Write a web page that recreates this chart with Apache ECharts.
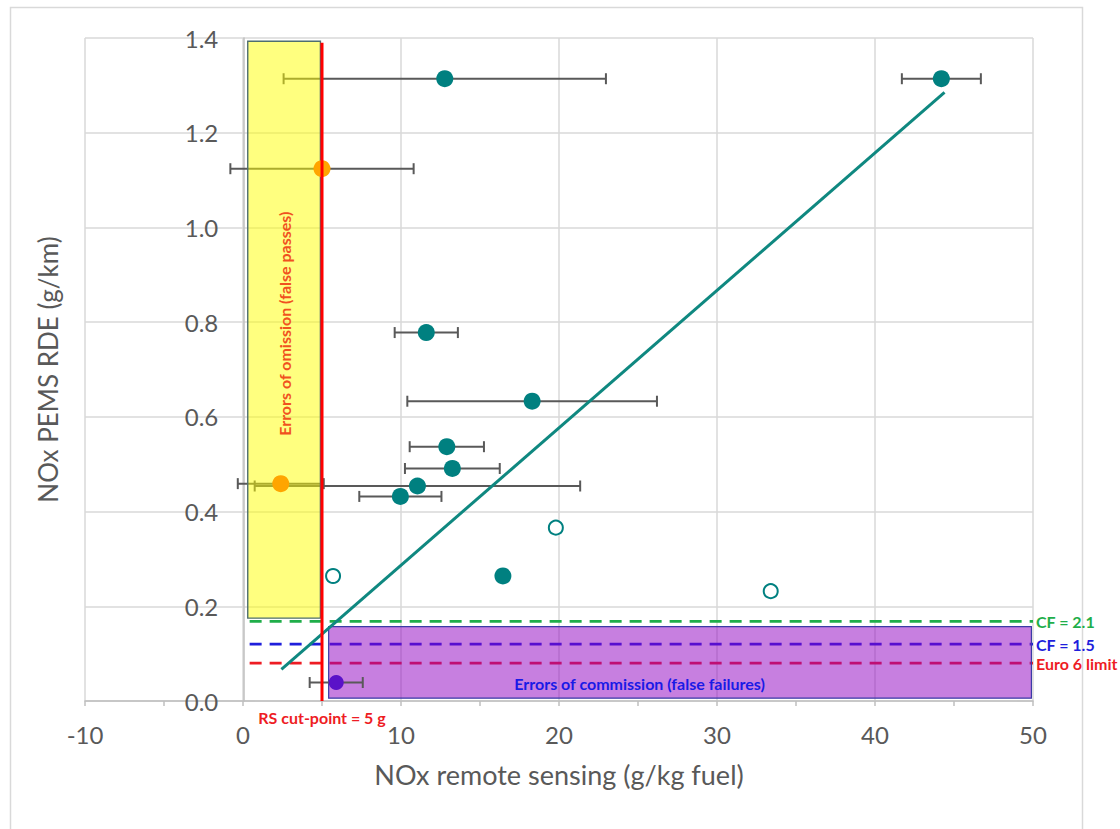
<!DOCTYPE html>
<html>
<head>
<meta charset="utf-8">
<title>NOx remote sensing vs PEMS RDE</title>
<script src="https://cdn.jsdelivr.net/npm/echarts@6/dist/echarts.min.js"></script>
<style>
  html, body { margin: 0; padding: 0; background: #fff; }
  #chart { width: 1120px; height: 829px; }
</style>
</head>
<body>
<div id="chart"></div>
<script>
// vehicles that failed on both methods (teal, filled) with RS uncertainty (half width)
const tealX = [12.77, 44.2, 11.6, 18.3, 12.9, 13.25, 11.04, 9.96, 16.45]
const tealY = [1.314, 1.314, 0.778, 0.633, 0.537, 0.491, 0.454, 0.432, 0.264]
const tealErr = [10.2, 2.5, 2.0, 7.9, 2.35, 3.0, 10.3, 2.6, 0]

// false passes (orange)
const orangeX = [5.0, 2.39]
const orangeY = [1.124, 0.459]
const orangeErr = [5.8, 2.72]

// false failure (purple)
const purpleX = [5.9]
const purpleY = [0.039]
const purpleErr = [1.68]

// open markers, no error bars
const openX = [5.7, 19.8, 33.4]
const openY = [0.264, 0.366, 0.232]

// linear trend
const trendX = [2.43, 44.4]
const trendY = [0.067, 1.285]

// RS cut-point
const cutPointX = 5
const cutPointTop = 1.39

// PEMS limits
const limitNames = ["CF = 2.1", "CF = 1.5", "Euro 6 limit"]
const limitValues = [0.168, 0.12, 0.08]
const limitColors = ["#1fae4a", "#1f1fdc", "#ee1c24"]
const limitStart = 0.42
const limitEnd = 50

// error zones [x0, y0, x1, y1]
const omissionBox = [0.3, 0.175, 4.9, 1.393]
const commissionBox = [5.42, 0.006, 49.9, 0.157]

const FONT = "Lato"
const GREY = "#595959"

function errData(xs, ys, es) {
  return xs.map((x, i) => [x, ys[i], es[i]]).filter(d => d[2] > 0)
}

function renderErr(params, api) {
  const x = api.value(0)
  const y = api.value(1)
  const e = api.value(2)
  const a = api.coord([x - e, y])
  const b = api.coord([x + e, y])
  const s = { stroke: GREY, lineWidth: 2 }
  return {
    type: "group",
    children: [
      { type: "line", shape: { x1: a[0], y1: a[1], x2: b[0], y2: b[1] }, style: s },
      { type: "line", shape: { x1: a[0], y1: a[1] - 5.5, x2: a[0], y2: a[1] + 5.5 }, style: s },
      { type: "line", shape: { x1: b[0], y1: b[1] - 5.5, x2: b[0], y2: b[1] + 5.5 }, style: s }
    ]
  }
}

function boxShape(api) {
  const p0 = api.coord([api.value(0), api.value(3)])
  const p1 = api.coord([api.value(2), api.value(1)])
  return { x: p0[0], y: p0[1], width: p1[0] - p0[0], height: p1[1] - p0[1] }
}

const chart = echarts.init(document.getElementById("chart"), null, { renderer: "svg" })

const limitSeries = limitValues.map((v, i) => ({
  name: limitNames[i],
  type: "line",
  z: 2,
  silent: true,
  showSymbol: false,
  data: [[limitStart, v], [limitEnd, v]],
  lineStyle: { color: limitColors[i], width: 2.8, type: [12, 8] },
  endLabel: {
    show: true,
    formatter: "{a}",
    distance: 3,
    color: limitColors[i],
    fontFamily: FONT,
    fontWeight: "bold",
    fontSize: 16
  }
}))

const option = {
  animation: false,
  backgroundColor: "#fff",
  graphic: [
    {
      type: "rect",
      left: 8,
      top: 5,
      shape: { width: 1072, height: 840 },
      style: { fill: "none", stroke: "#d9d9d9", lineWidth: 1.5 },
      z: -10
    }
  ],
  grid: { left: 85, right: 87, top: 38, bottom: 128, containLabel: false, outerBoundsMode: "none" },
  xAxis: {
    type: "value",
    min: -10,
    max: 50,
    interval: 10,
    name: "NOx remote sensing (g/kg fuel)",
    nameLocation: "middle",
    nameGap: 60,
    nameTextStyle: { color: GREY, fontFamily: FONT, fontSize: 27 },
    axisLine: { show: true, onZero: false, lineStyle: { color: "#bfbfbf", width: 1.5 } },
    axisTick: { show: true, length: 5, lineStyle: { color: "#bfbfbf", width: 1.5 } },
    minorTick: { show: true, splitNumber: 2, length: 5, lineStyle: { color: "#bfbfbf", width: 1.5 } },
    axisLabel: { color: GREY, fontFamily: FONT, fontSize: 24, margin: 21 },
    splitLine: { show: true, lineStyle: { color: "#d9d9d9", width: 1.5 } }
  },
  yAxis: {
    type: "value",
    min: 0,
    max: 1.4,
    interval: 0.2,
    // the axis crosses at x = 0, which is 158 px right of the grid edge
    offset: -158.3,
    name: "NOx PEMS RDE (g/km)",
    nameLocation: "middle",
    nameGap: 182,
    nameTextStyle: { color: GREY, fontFamily: FONT, fontSize: 26 },
    axisLine: { show: true, onZero: false, lineStyle: { color: "#bfbfbf", width: 1.5 } },
    axisTick: { show: false },
    axisLabel: {
      color: GREY,
      fontFamily: FONT,
      fontSize: 24,
      margin: 25,
      formatter: v => v.toFixed(1)
    },
    splitLine: { show: true, lineStyle: { color: "#d9d9d9", width: 1.5 } }
  },
  series: [
    ...limitSeries,
    {
      name: "commission",
      type: "custom",
      z: 3,
      silent: true,
      data: [commissionBox],
      renderItem: (params, api) => {
        const r = boxShape(api)
        const t = api.coord([25.1, 0.038])
        return {
          type: "group",
          children: [
            { type: "rect", shape: r, style: { fill: "rgba(143,0,193,0.5)", stroke: "#3b3ba6", lineWidth: 1.2 } },
            {
              type: "text",
              x: t[0],
              y: t[1],
              style: {
                text: "Errors of commission (false failures)",
                fill: "#1a1ae6",
                font: "bold 16px " + FONT,
                align: "center",
                verticalAlign: "middle"
              }
            }
          ]
        }
      }
    },
    {
      name: "trend",
      type: "line",
      z: 4,
      silent: true,
      showSymbol: false,
      data: trendX.map((x, i) => [x, trendY[i]]),
      lineStyle: { color: "#0f8880", width: 3 }
    },
    {
      name: "errors",
      type: "custom",
      z: 4,
      silent: true,
      data: [
        ...errData(tealX, tealY, tealErr),
        ...errData(orangeX, orangeY, orangeErr),
        ...errData(purpleX, purpleY, purpleErr)
      ],
      renderItem: renderErr
    },
    {
      name: "omission",
      type: "custom",
      z: 5,
      silent: true,
      data: [omissionBox],
      renderItem: (params, api) => {
        const r = boxShape(api)
        return {
          type: "group",
          children: [
            { type: "rect", shape: r, style: { fill: "rgba(255,255,0,0.5)", stroke: "#4f6e6e", lineWidth: 1.4 } },
            {
              type: "text",
              x: r.x + r.width / 2,
              y: r.y + r.height / 2 - 6,
              rotation: Math.PI / 2,
              style: {
                text: "Errors of omission (false passes)",
                fill: "#f0521e",
                font: "bold 16px " + FONT,
                align: "center",
                verticalAlign: "middle"
              }
            }
          ]
        }
      }
    },
    {
      name: "teal",
      type: "scatter",
      z: 6,
      symbolSize: 17,
      data: tealX.map((x, i) => [x, tealY[i]]),
      itemStyle: { color: "#008080", opacity: 1 }
    },
    {
      name: "open",
      type: "scatter",
      z: 6,
      symbolSize: 14,
      data: openX.map((x, i) => [x, openY[i]]),
      itemStyle: { color: "#fff", borderColor: "#008080", borderWidth: 2, opacity: 1 }
    },
    {
      name: "orange",
      type: "scatter",
      z: 6,
      symbolSize: 17,
      data: orangeX.map((x, i) => [x, orangeY[i]]),
      itemStyle: { color: "#ffa500", opacity: 1 }
    },
    {
      name: "purple",
      type: "scatter",
      z: 6,
      symbolSize: 15,
      data: purpleX.map((x, i) => [x, purpleY[i]]),
      itemStyle: { color: "#5a12c8", opacity: 1 }
    },
    {
      name: "cut-point",
      type: "custom",
      z: 7,
      silent: true,
      clip: false,
      data: [[cutPointX, 0, cutPointTop]],
      renderItem: (params, api) => {
        const a = api.coord([api.value(0), api.value(1)])
        const b = api.coord([api.value(0), api.value(2)])
        return {
          type: "group",
          children: [
            { type: "line", shape: { x1: a[0], y1: a[1], x2: b[0], y2: b[1] }, style: { stroke: "#ff0000", lineWidth: 3 } },
            {
              type: "text",
              x: a[0],
              y: a[1] + 16,
              style: {
                text: "RS cut-point = " + cutPointX + " g",
                fill: "#ee1c24",
                font: "bold 16px " + FONT,
                align: "center",
                verticalAlign: "middle"
              }
            }
          ]
        }
      }
    }
  ]
}

chart.setOption(option)
</script>
</body>
</html>
